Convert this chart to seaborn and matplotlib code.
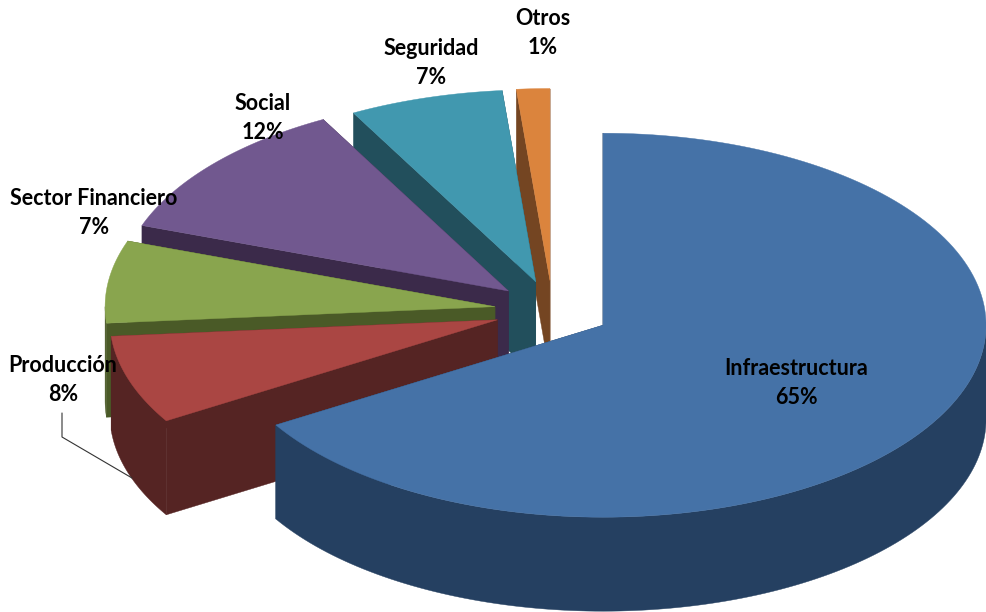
"""
Torta 3D explotada: distribución por sector.
"""

import numpy as np
import pandas as pd
import matplotlib.pyplot as plt
import seaborn as sns
from matplotlib.patches import Polygon

# ─────────────────────────────────────────────
# DATOS
# ─────────────────────────────────────────────
SECTORS = ["Infraestructura", "Producción", "Sector Financiero", "Social", "Seguridad", "Otros"]
SHARES = [66.3, 7.35, 6.8, 11.65, 6.5, 1.4]
PRINTED = ["65%", "8%", "7%", "12%", "7%", "1%"]

TOP_COLORS = ["#4572A7", "#AA4643", "#89A54E", "#71588F", "#4198AF", "#DB843D"]
SIDE_COLORS = ["#254061", "#552423", "#4A5A27", "#3B2A4A", "#224F5C", "#744522"]

# geometría de la proyección, en píxeles
CENTER = (552.5, 310.5)
RX, RY = 383.0, 192.0
DEPTH = 94.0
EXPLODE_X, EXPLODE_Y = 58.0, 30.0
RADIUS_SCALE = [1.0, 1.012, 1.018, 1.016, 1.0, 1.0]   # perspectiva del lado izquierdo

LABEL_POS = [(796, 383), (63, 380), (94, 213), (263, 118), (431, 63), (543, 33)]


def rim(cx, cy, angles, scale):
    # ángulo en grados, horario desde las 12
    t = np.radians(angles)
    return np.column_stack([cx + scale * RX * np.sin(t), cy - scale * RY * np.cos(t)])


def draw_slice(ax, start, end, top, side, scale):
    mid = np.radians((start + end) / 2)
    cx = CENTER[0] + EXPLODE_X * np.sin(mid)
    cy = CENTER[1] - EXPLODE_Y * np.cos(mid)
    down = np.array([0, DEPTH])
    apex = np.array([[cx, cy]])

    # caras de corte
    for a in (start, end):
        p = rim(cx, cy, [a], scale)
        ax.add_patch(Polygon(np.vstack([apex, p, p + down, apex + down]),
                             fc=side, ec=side, lw=0.3))

    # pared exterior, solo la parte frontal
    lo, hi = max(start, 90), min(end, 270)
    if hi > lo:
        arc = rim(cx, cy, np.linspace(lo, hi, 120), scale)
        ax.add_patch(Polygon(np.vstack([arc, (arc + down)[::-1]]),
                             fc=side, ec=side, lw=0.3))

    arc = rim(cx, cy, np.linspace(start, end, 160), scale)
    ax.add_patch(Polygon(np.vstack([apex, arc]), fc=top, ec=top, lw=0.3))


# ─────────────────────────────────────────────
# GRÁFICO
# ─────────────────────────────────────────────
sns.set_theme(style="white")
plt.rcParams["font.family"] = ["Lato", "DejaVu Sans"]

df = pd.DataFrame({"sector": SECTORS, "share": SHARES, "printed": PRINTED,
                   "top": sns.color_palette(TOP_COLORS), "side": sns.color_palette(SIDE_COLORS),
                   "scale": RADIUS_SCALE})
df["end"] = df["share"].cumsum() / df["share"].sum() * 360
df["start"] = df["end"].shift(fill_value=0)

fig, ax = plt.subplots(figsize=(9.86, 6.12), dpi=100)
fig.subplots_adjust(0, 0, 1, 1)
ax.set_xlim(0, 986)
ax.set_ylim(612, 0)
ax.axis("off")

# línea guía de Producción
ax.plot([62, 62, 132], [413, 437, 478], color="#333333", lw=0.8)

# de atrás hacia adelante: la primera porción queda encima
for _, row in df[::-1].iterrows():
    draw_slice(ax, row["start"], row["end"], row["top"], row["side"], row["scale"])

for (x, y), name, pct in zip(LABEL_POS, df["sector"], df["printed"]):
    ax.text(x, y, f"{name}\n{pct}", ha="center", va="center", fontsize=15.5,
            fontweight="bold", color="black", linespacing=1.5)

plt.savefig("out.png", dpi=100)
